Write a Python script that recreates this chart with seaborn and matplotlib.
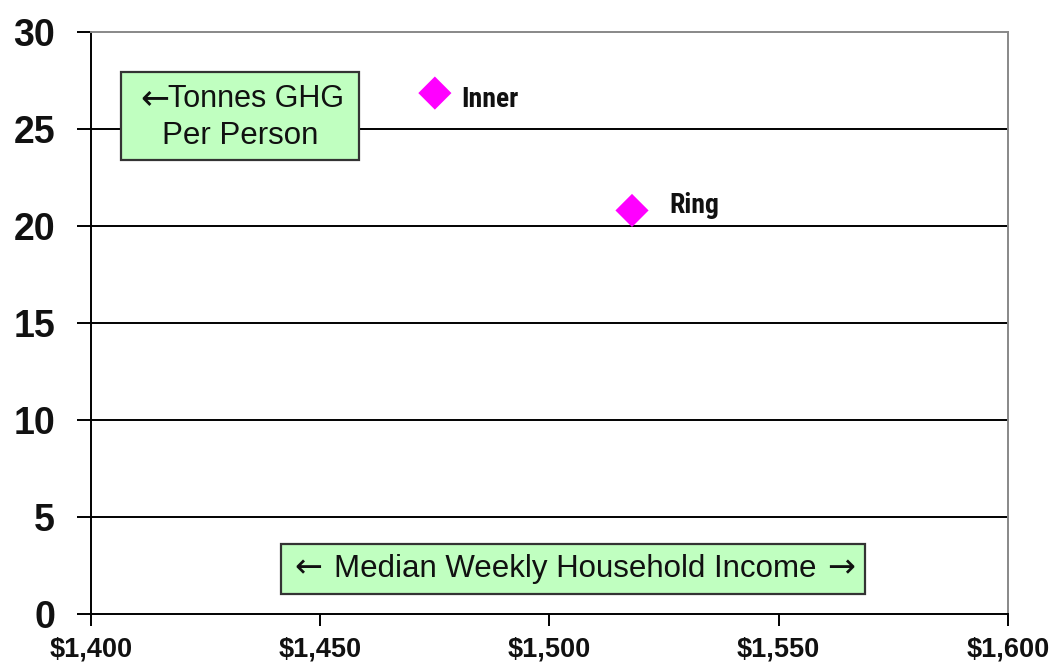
import matplotlib
matplotlib.use("Agg")
import matplotlib.pyplot as plt
from matplotlib.patches import Rectangle
from matplotlib.transforms import IdentityTransform
import seaborn as sns
import pandas as pd

# Regions: median weekly household income vs tonnes GHG per person
regions = ["Inner", "Ring"]
income = [1475, 1518]
ghg_per_person = [26.85, 20.8]

x_ticks = [1400, 1450, 1500, 1550, 1600]
x_tick_labels = ["$1,400", "$1,450", "$1,500", "$1,550", "$1,600"]
y_ticks = [0, 5, 10, 15, 20, 25, 30]

df = pd.DataFrame({"region": regions, "income": income, "ghg": ghg_per_person})

sns.set_theme(style="white")
regular = ["Liberation Sans", "DejaVu Sans"]
condensed = ["Roboto Condensed", "Liberation Sans", "DejaVu Sans"]
arrow_font = ["PT Sans Narrow", "DejaVu Sans"]
plt.rcParams["font.family"] = regular

fig = plt.figure(figsize=(10.57, 6.70), dpi=100)
ax = fig.add_axes([0.0861, 0.0836, 0.8675, 0.8687])

# horizontal gridlines at the inner y ticks
for yv in y_ticks[1:-1]:
    ax.axhline(yv, color="black", lw=1.4, zorder=0)

sns.scatterplot(data=df, x="income", y="ghg", ax=ax, marker="D", s=285,
                color="#FF00FF", edgecolor="none", legend=False, zorder=3)

# point labels: (dx, dy) in pixels from the marker to the text baseline start
label_offsets = {"Inner": (26, -14), "Ring": (37, -3)}
for _, row in df.iterrows():
    dx, dy = label_offsets[row["region"]]
    ax.annotate(row["region"], (row["income"], row["ghg"]),
                xytext=(dx * 0.72, dy * 0.72), textcoords="offset points",
                ha="left", va="baseline", fontsize=20, fontweight="bold",
                family=condensed, color="#111111")

ax.set_xlim(1400, 1600)
ax.set_ylim(0, 30)
ax.set_xticks(x_ticks)
ax.set_xticklabels(x_tick_labels)
ax.set_yticks(y_ticks)
ax.set_xlabel("")
ax.set_ylabel("")

for lab in ax.get_xticklabels():
    lab.set_family(regular)
    lab.set_fontweight("bold")
    lab.set_fontsize(19.5)
    lab.set_color("#111111")
for lab in ax.get_yticklabels():
    lab.set_family(regular)
    lab.set_fontweight("bold")
    lab.set_fontsize(27)
    lab.set_color("#111111")

ax.tick_params(axis="x", direction="out", length=8.5, width=1.4, color="black",
               pad=8, bottom=True)
ax.tick_params(axis="y", direction="out", length=10, width=1.4, color="black",
               pad=16, left=True)

for side in ["left", "bottom"]:
    ax.spines[side].set_color("black")
    ax.spines[side].set_linewidth(1.4)
for side in ["top", "right"]:
    ax.spines[side].set_color("#888888")
    ax.spines[side].set_linewidth(1.4)
    ax.spines[side].set_visible(True)


def centered_row(pieces, cx, cy, gap=0.0):
    """Lay out several text pieces side by side, centred on (cx, cy) in axes units."""
    renderer = fig.canvas.get_renderer()
    arts = [ax.text(0, 0, s, ha="left", va="center", zorder=5, color="#111111", **kw)
            for s, kw in pieces]
    widths = [t.get_window_extent(renderer).width for t in arts]
    total = sum(widths) + gap * (len(arts) - 1)
    X, Y = ax.transAxes.transform((cx, cy))
    x = X - total / 2
    for t, w in zip(arts, widths):
        t.set_transform(IdentityTransform())
        t.set_position((x, Y))
        x += w + gap


box_face = "#C0FFC0"
box_edge = "#333333"

# y-axis caption box
ax.add_patch(Rectangle((0.0327, 0.780), 0.2595, 0.1512, transform=ax.transAxes,
                       facecolor=box_face, edgecolor=box_edge, lw=1.6, zorder=4))
centered_row([("\u2190", dict(family=arrow_font, fontsize=25)),
              ("Tonnes GHG", dict(family=regular, fontsize=22))],
             0.1647, 0.8849, gap=-1)
centered_row([("Per Person", dict(family=regular, fontsize=22.5))], 0.1625, 0.8213)

# x-axis caption box
ax.add_patch(Rectangle((0.2072, 0.0344), 0.6369, 0.0859, transform=ax.transAxes,
                       facecolor=box_face, edgecolor=box_edge, lw=1.6, zorder=4))
centered_row([("\u2190", dict(family=arrow_font, fontsize=24)),
              ("Median Weekly Household Income", dict(family=regular, fontsize=22.5)),
              ("\u2192", dict(family=arrow_font, fontsize=24))],
             0.5278, 0.0773, gap=11)

fig.savefig("out.png", dpi=100)
